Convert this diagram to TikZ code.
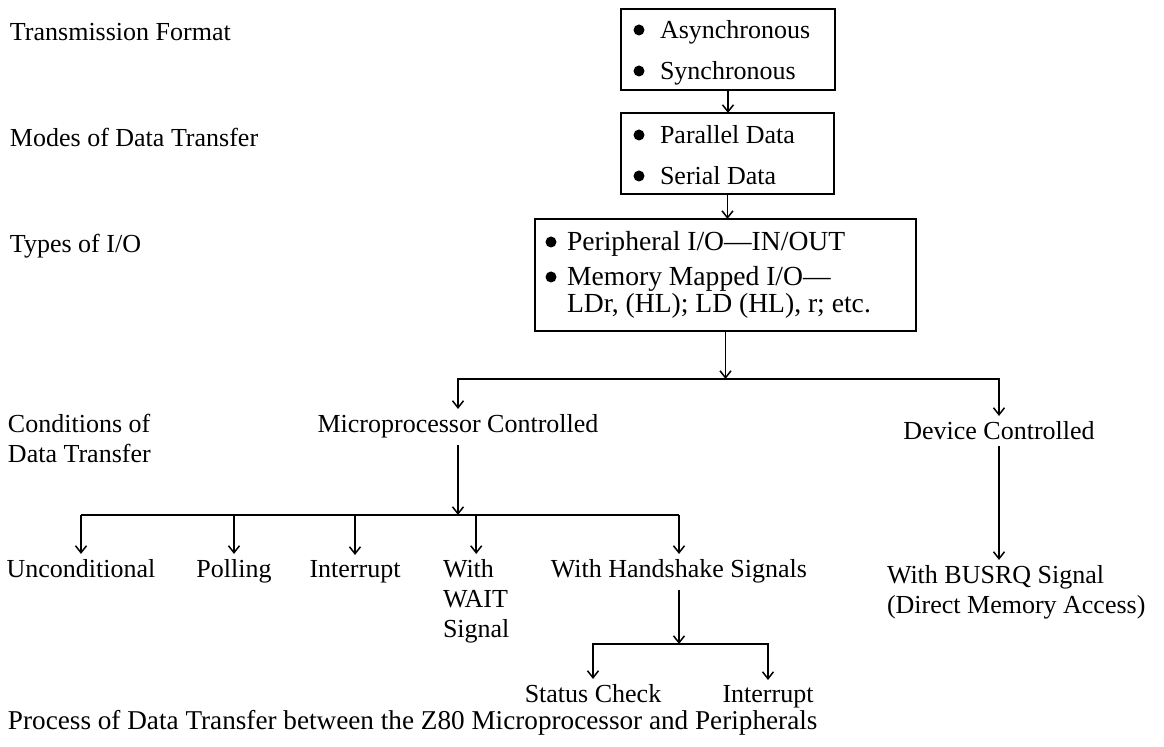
\documentclass[tikz,border=0pt]{standalone}
\usepackage{fontspec}
\setmainfont{Liberation Serif}
\usetikzlibrary{arrows.meta,calc}
\begin{document}
\begin{tikzpicture}[x=0.5pt, y=-0.5pt,
  every node/.style={font=\fontsize{13}{15}\selectfont, inner xsep=0pt, inner ysep=3pt, outer sep=0pt},
  lab/.style={anchor=base west},
  item/.style={anchor=base west},
  bigitem/.style={anchor=base west, font=\fontsize{13.8}{14}\selectfont},
  lvl/.style={anchor=base},
  box/.style={draw, line width=1.3pt, inner sep=0pt},
  ln/.style={line width=0.75pt},
  arr/.style={line width=0.75pt, -{Straight Barb[length=3.5pt,width=5.5pt]}},
  dot/.style={circle, fill, inner sep=0pt, minimum size=5.5pt}]
\useasboundingbox (0,0) rectangle (1164,747);

% left labels
\node[lab] (lt) at (10,41) {Transmission Format};
\node[lab] (lm) at (10,147) {Modes of Data Transfer};
\node[lab] (lty) at (10,253) {Types of I/O};
\node[lab, align=left] (lc) at (8,463) {Conditions of\\Data Transfer};

% boxes
\node[box, minimum width=107pt, minimum height=40.5pt] (box1) at (728,49.5) {};
\node[box, minimum width=106.5pt, minimum height=40.5pt] (box2) at (727.5,153.5) {};
\node[box, minimum width=190.5pt, minimum height=56pt] (box3) at (725.5,275) {};

% box contents
\node[dot] (d1) at (639,30) {};
\node[item] (async) at (660,39) {Asynchronous};
\node[dot] (d2) at (639,71) {};
\node[item] (sync) at (660,80) {Synchronous};
\node[dot] (d3) at (639,135) {};
\node[item] (par) at (660,144) {Parallel Data};
\node[dot] (d4) at (639,176) {};
\node[item] (ser) at (660,185) {Serial Data};
\node[dot] (d5) at (551,242) {};
\node[bigitem] (per) at (567,251) {Peripheral I/O—IN/OUT};
\node[dot] (d6) at (551,277) {};
\node[bigitem] (mem) at (567,286) {Memory Mapped I/O—};
\node[bigitem] (ldr) at (567,313) {LDr, (HL); LD (HL), r; etc.};

% box connectors
\draw[arr] (box1.south) -- (box1.south |- box2.north);
\draw[arr] (box2.south) -- (box2.south |- box3.north);

% level 2
\node[lvl] (mp) at (458,433) {Microprocessor Controlled};
\node[lvl] (dev) at (999,440) {Device Controlled};
\coordinate (j1) at (725,379);
\draw[arr] (box3.south) -- (box3.south |- j1);
\draw[arr] (j1) -| (mp.north);
\draw[arr] (j1) -| (dev.north);

% level 3
\node[lvl] (unc) at (81,578) {Unconditional};
\node[lvl] (pol) at (234,578) {Polling};
\node[lvl] (intr) at (355,578) {Interrupt};
\node[anchor=base west, align=left] (wait) at (443,638) {With\\WAIT\\Signal};
\node[lvl] (hand) at (679,578) {With Handshake Signals};
\coordinate (j2) at (458,515);
\draw[arr] (mp.south) -- (j2);
\draw[ln] (unc.north |- j2) -- (hand.north |- j2);
\draw[arr] (unc.north |- j2) -- (unc.north);
\draw[arr] (pol.north |- j2) -- (pol.north);
\draw[arr] (intr.north |- j2) -- (intr.north);
\draw[arr] (wait.north |- j2) -- (wait.north);
\draw[arr] (hand.north |- j2) -- (hand.north);

% handshake level
\node[lvl] (stat) at (593,703) {Status Check};
\node[lvl] (int2) at (768,703) {Interrupt};
\coordinate (j3) at (679,644);
\draw[arr] (hand.south) -- (j3);
\draw[arr] (j3) -| (stat.north);
\draw[arr] (j3) -| (int2.north);

% device branch
\node[anchor=base west, align=left] (busrq) at (887,614) {With BUSRQ Signal\\(Direct Memory Access)};
\draw[arr] (dev.south) -- (dev.south |- busrq.north);

% caption
\node[lab, font=\fontsize{13.6}{15}\selectfont] (cap) at (8,730) {Process of Data Transfer between the Z80 Microprocessor and Peripherals};
\end{tikzpicture}
\end{document}
